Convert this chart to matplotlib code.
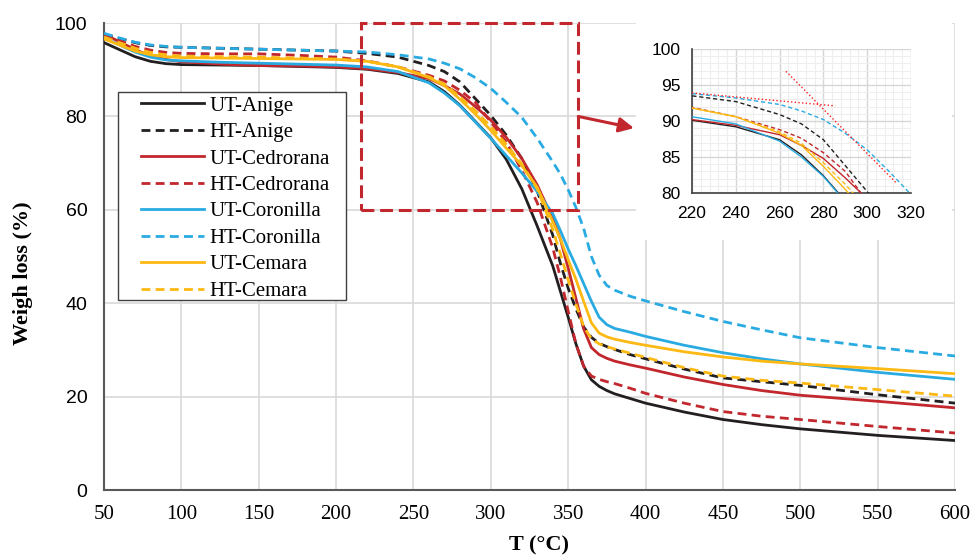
import matplotlib.pyplot as plt
from matplotlib.patches import Rectangle
from matplotlib.ticker import MultipleLocator

# --- TGA data: temperature (°C) and residual weight (%) ---
temp = [50, 60, 70, 80, 90, 100, 125, 150, 175, 200, 220, 240, 260, 270, 280,
        290, 300, 310, 320, 330, 340, 345, 350, 355, 360, 365, 370, 375, 380,
        390, 400, 425, 450, 475, 500, 550, 600]

ut_anige = [95.8, 94.3, 92.8, 91.8, 91.3, 91.1, 91.0, 90.9, 90.7, 90.5, 90.1,
            89.2, 87.4, 85.3, 82.4, 78.9, 75.4, 70.8, 64.5, 56.5, 48.0, 42.5,
            37.0, 31.3, 26.5, 23.6, 22.2, 21.3, 20.6, 19.6, 18.6, 16.7, 15.1,
            14.0, 13.1, 11.7, 10.6]
ht_anige = [97.5, 96.7, 95.8, 95.2, 94.9, 94.8, 94.6, 94.4, 94.2, 94.0, 93.5,
            92.7, 90.9, 89.6, 87.4, 83.8, 80.2, 76.0, 71.0, 64.0, 54.6, 48.5,
            43.2, 38.8, 34.9, 32.7, 31.4, 30.7, 30.1, 29.0, 28.1, 25.9, 24.0,
            23.2, 22.4, 20.4, 18.6]
ut_cedrorana = [97.6, 96.0, 94.3, 93.0, 92.2, 91.7, 91.2, 90.9, 90.8, 90.6,
                90.2, 89.4, 88.1, 86.6, 84.8, 82.1, 79.2, 75.5, 71.0, 65.3,
                58.1, 53.7, 47.5, 41.0, 34.5, 30.5, 29.0, 28.2, 27.6, 26.8,
                26.1, 24.2, 22.6, 21.3, 20.3, 19.0, 17.6]
ht_cedrorana = [97.3, 96.2, 95.0, 94.2, 93.7, 93.5, 93.4, 93.4, 93.1, 92.7,
                91.9, 90.6, 88.8, 87.6, 85.6, 83.0, 78.8, 74.5, 68.5, 61.5,
                51.9, 45.5, 38.3, 31.3, 26.5, 24.4, 23.7, 23.2, 22.8, 21.8,
                20.7, 18.6, 16.8, 15.8, 15.1, 13.6, 12.2]
ut_coronilla = [96.8, 95.3, 93.8, 92.7, 92.1, 91.9, 91.6, 91.4, 91.2, 91.0,
                90.6, 89.6, 87.2, 85.0, 82.3, 78.8, 75.3, 71.6, 67.9, 63.9,
                59.2, 55.5, 51.6, 48.0, 44.2, 40.4, 37.0, 35.4, 34.6, 33.8,
                32.9, 31.0, 29.4, 28.1, 27.0, 25.2, 23.7]
ht_coronilla = [97.8, 96.8, 95.9, 95.3, 95.0, 94.8, 94.6, 94.4, 94.2, 94.0,
                93.8, 93.2, 92.3, 91.4, 90.2, 88.3, 86.0, 83.0, 79.8, 75.3,
                70.3, 67.6, 64.3, 60.5, 56.0, 50.0, 46.0, 43.8, 42.8, 41.5,
                40.5, 38.2, 36.1, 34.3, 32.6, 30.5, 28.7]
ut_cemara = [96.6, 95.3, 94.0, 93.2, 92.8, 92.6, 92.5, 92.4, 92.3, 92.2, 91.8,
             90.6, 88.3, 86.6, 83.7, 80.5, 77.0, 73.2, 69.5, 64.8, 57.5, 53.7,
             49.3, 45.1, 40.4, 35.8, 33.6, 32.8, 32.3, 31.6, 31.0, 29.6, 28.5,
             27.6, 27.0, 26.0, 24.9]
ht_cemara = [97.0, 95.8, 94.6, 93.7, 93.2, 92.9, 92.8, 92.7, 92.5, 92.3, 91.8,
             90.6, 88.5, 86.9, 84.2, 81.2, 77.8, 74.0, 69.8, 64.5, 55.8, 50.5,
             45.0, 39.8, 35.0, 32.4, 31.3, 30.7, 30.2, 29.3, 28.4, 26.2, 24.4,
             23.5, 22.9, 21.5, 20.1]

# onset tangents drawn in the zoomed panel (T, W pairs)
tangent_a_t = [220, 285.4]
tangent_a_w = [93.9, 92.1]
tangent_b_t = [262.9, 313.3]
tangent_b_w = [96.9, 81.4]

BLACK = "#231f20"
RED = "#c1272d"
BLUE = "#29abe2"
GOLD = "#fdb913"
SOLID = "-"
DASH = (0, (3.2, 1.9))

series = [
    ("UT-Anige", ut_anige, BLACK, SOLID),
    ("HT-Anige", ht_anige, BLACK, DASH),
    ("UT-Cedrorana", ut_cedrorana, RED, SOLID),
    ("HT-Cedrorana", ht_cedrorana, RED, DASH),
    ("UT-Coronilla", ut_coronilla, BLUE, SOLID),
    ("HT-Coronilla", ht_coronilla, BLUE, DASH),
    ("UT-Cemara", ut_cemara, GOLD, SOLID),
    ("HT-Cemara", ht_cemara, GOLD, DASH),
]

SERIF = "Liberation Serif"
SANS = "Liberation Sans"

fig = plt.figure(figsize=(9.74, 5.59), dpi=100)
ax = fig.add_axes([0.1068, 0.1234, 0.8737, 0.8354])

for label, w, c, ls in series:
    ax.plot(temp, w, color=c, ls=ls, lw=2.0, label=label, zorder=3)

ax.set_xlim(50, 600)
ax.set_ylim(0, 100)
ax.set_xticks(range(50, 601, 50))
ax.set_yticks(range(0, 101, 20))
ax.grid(True, color="#d9d9d9", lw=1.2)
ax.set_axisbelow(True)
for s in ["top", "right"]:
    ax.spines[s].set_visible(False)
for s in ["left", "bottom"]:
    ax.spines[s].set_color("#595959")
    ax.spines[s].set_linewidth(1.5)
ax.tick_params(axis="x", length=0, pad=11, labelsize=15)
ax.tick_params(axis="y", length=0, pad=12, labelsize=14)
for t in ax.get_xticklabels():
    t.set_fontfamily(SERIF)
for t in ax.get_yticklabels():
    t.set_fontfamily(SANS)

ax.set_xlabel("T (°C)", fontfamily=SERIF, fontsize=16, fontweight="bold")
ax.xaxis.set_label_coords(0.511, -0.097)
ax.set_ylabel("Weigh loss (%)", fontfamily=SERIF, fontsize=16, fontweight="bold")
ax.yaxis.set_label_coords(-0.083, 0.4636)

# legend without frame + hand-drawn box
leg = ax.legend(loc="upper left", bbox_to_anchor=(0.0435, 0.8437), frameon=False,
                borderpad=0, borderaxespad=0, handlelength=3.0,
                handletextpad=0.3, labelspacing=0.33,
                prop={"family": SERIF, "size": 15})
ax.add_patch(Rectangle((0.0165, 0.4069), 0.2679, 0.4451, transform=ax.transAxes,
                       fill=True, fc="white", ec="#404040", lw=1.0, zorder=4))
leg.set_zorder(5)

# zoom region box and arrow
ax.add_patch(Rectangle((216, 60), 140.5, 40, fill=False, ec=RED, lw=2.2,
                       ls=(0, (4.2, 1.9)), clip_on=False, zorder=4))
ax.annotate("", xy=(392.5, 77.5), xytext=(356.5, 80), annotation_clip=False,
            arrowprops=dict(arrowstyle="-|>", color=RED, lw=2.2,
                            mutation_scale=22, shrinkA=0, shrinkB=0))

# white backing behind the inset
ax.add_patch(Rectangle((0.653, 0.5707), 0.324, 0.4023, transform=fig.transFigure,
                       fc="white", ec="none", clip_on=False, zorder=2.5))

# --- inset ---
axin = fig.add_axes([0.7105, 0.6547, 0.2248, 0.2576], zorder=3)
for label, w, c, ls in series:
    axin.plot(temp, w, color=c, ls=(0, (3, 2)) if ls != SOLID else SOLID,
              lw=1.0, zorder=3)
axin.plot(tangent_a_t, tangent_a_w, color="#ff2020", ls=":", lw=1.0, zorder=4)
axin.plot(tangent_b_t, tangent_b_w, color="#ff2020", ls=":", lw=1.0, zorder=4)
axin.set_xlim(220, 320)
axin.set_ylim(80, 100)
axin.xaxis.set_major_locator(MultipleLocator(20))
axin.xaxis.set_minor_locator(MultipleLocator(4))
axin.yaxis.set_major_locator(MultipleLocator(5))
axin.yaxis.set_minor_locator(MultipleLocator(1))
axin.grid(True, which="major", color="#d6d6d6", lw=1.0)
axin.grid(True, which="minor", color="#eeeeee", lw=0.8)
axin.set_axisbelow(True)
for s in ["top", "right"]:
    axin.spines[s].set_visible(False)
for s in ["left", "bottom"]:
    axin.spines[s].set_color("#404040")
    axin.spines[s].set_linewidth(1.2)
axin.tick_params(which="both", length=0)
axin.tick_params(axis="x", pad=9, labelsize=12.5)
axin.tick_params(axis="y", pad=8, labelsize=12.5)
for t in axin.get_xticklabels() + axin.get_yticklabels():
    t.set_fontfamily(SANS)

fig.savefig("out.png", dpi=100)
